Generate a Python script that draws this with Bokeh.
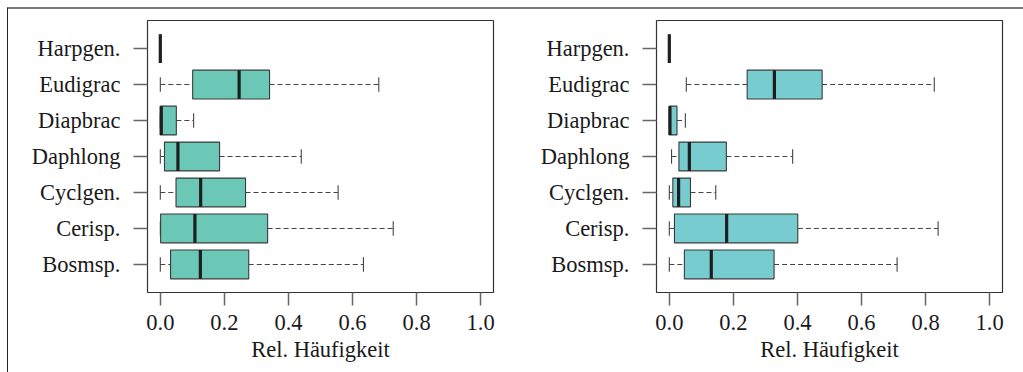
from bokeh.plotting import figure
from bokeh.layouts import row
from bokeh.models import FactorRange, FixedTicker, ColumnDataSource, Title
from bokeh.embed import file_html
from bokeh.resources import INLINE

categories = ["Bosmsp.", "Cerisp.", "Cyclgen.", "Daphlong", "Diapbrac", "Eudigrac", "Harpgen."]

# left panel statistics (low whisker, q1, median, q3, high whisker)
left_low = [0.0, 0.0, 0.0, 0.0, 0.0, 0.0, 0.0]
left_q1 = [0.032, 0.001, 0.049, 0.013, 0.0, 0.101, 0.0]
left_med = [0.125, 0.108, 0.126, 0.055, 0.003, 0.246, 0.0]
left_q3 = [0.276, 0.335, 0.266, 0.185, 0.05, 0.341, 0.0]
left_high = [0.634, 0.727, 0.555, 0.44, 0.104, 0.682, 0.0]

# right panel statistics
right_low = [0.0, 0.0, 0.0, 0.007, 0.0, 0.053, 0.0]
right_q1 = [0.047, 0.016, 0.011, 0.03, 0.0, 0.243, 0.0]
right_med = [0.131, 0.179, 0.029, 0.0625, 0.002, 0.328, 0.0]
right_q3 = [0.327, 0.401, 0.066, 0.178, 0.024, 0.477, 0.0]
right_high = [0.711, 0.839, 0.145, 0.385, 0.05, 0.827, 0.0]

x_ticks = [0.0, 0.2, 0.4, 0.6, 0.8, 1.0]
x_tick_labels = ["0.0", "0.2", "0.4", "0.6", "0.8", "1.0"]
x_title = "Rel. Häufigkeit"

FONT = "Liberation Serif"


def make_panel(low, q1, med, q3, high, fill, left_border, right_border, title_shift):
    p = figure(
        frame_width=346, frame_height=272,
        y_range=FactorRange(factors=categories, range_padding=0.08),
        x_range=(-0.04, 1.04),
        output_backend="svg", toolbar_location=None,
        min_border_left=left_border, min_border_right=right_border,
        min_border_top=11, min_border_bottom=80,
    )
    p.background_fill_color = "white"
    p.border_fill_color = "white"
    p.outline_line_color = "#333333"
    p.outline_line_width = 1.2
    p.xgrid.visible = False
    p.ygrid.visible = False

    src = ColumnDataSource(dict(cat=categories, low=low, q1=q1, med=med, q3=q3, high=high))
    # whiskers
    p.segment(x0="low", y0="cat", x1="q1", y1="cat", source=src,
              line_color="#444444", line_width=1.1, line_dash="5 3")
    p.segment(x0="q3", y0="cat", x1="high", y1="cat", source=src,
              line_color="#444444", line_width=1.1, line_dash="5 3")
    # caps (zero-width bars: only their outline is visible)
    p.hbar(y="cat", left="low", right="low", height=0.4, source=src,
           fill_alpha=0, line_color="#444444", line_width=1.1)
    p.hbar(y="cat", left="high", right="high", height=0.4, source=src,
           fill_alpha=0, line_color="#444444", line_width=1.1)
    # boxes
    p.hbar(y="cat", left="q1", right="q3", height=0.8, source=src,
           fill_color=fill, line_color="#3a3a3a", line_width=1.1)
    # medians
    p.hbar(y="cat", left="med", right="med", height=0.8, source=src,
           fill_alpha=0, line_color="#1e1e1e", line_width=3.2, line_cap="butt",
           line_join="miter")

    xa = p.xaxis[0]
    xa.ticker = FixedTicker(ticks=x_ticks)
    xa.major_label_overrides = {t: l for t, l in zip(x_ticks, x_tick_labels)}
    xa.axis_line_color = None
    xa.major_tick_line_color = "#666666"
    xa.major_tick_line_width = 1.5
    xa.major_tick_out = 13
    xa.major_tick_in = 0
    xa.minor_tick_line_color = None
    xa.major_label_text_font = FONT
    xa.major_label_text_font_size = "22.5px"
    xa.major_label_text_color = "#1a1a1a"
    xa.major_label_standoff = 9

    ya = p.yaxis[0]
    ya.axis_line_color = None
    ya.major_tick_line_color = "#666666"
    ya.major_tick_line_width = 1.5
    ya.major_tick_out = 14
    ya.major_tick_in = 0
    ya.minor_tick_line_color = None
    ya.major_label_text_font = FONT
    ya.major_label_text_font_size = "22.5px"
    ya.major_label_text_color = "#1a1a1a"
    ya.major_label_standoff = 13

    # x-axis title below the tick labels
    p.add_layout(Title(text=x_title, align="center", offset=title_shift,
                       text_font=FONT, text_font_size="22.5px",
                       text_font_style="normal", text_color="#1a1a1a",
                       standoff=4), "below")
    return p


p1 = make_panel(left_low, left_q1, left_med, left_q3, left_high, "#6cc8b6", 139, 19, -9)
p2 = make_panel(right_low, right_q1, right_med, right_q3, right_high, "#76cccf", 144, 21, -6)

layout = row(p1, p2, styles={
    "border-top": "2px solid #7a7a7a",
    "border-left": "1px solid #222222",
    "margin-left": "7px",
    "margin-top": "7px",
    "background-color": "white",
})

open("out.html", "w").write(file_html(layout, INLINE))
